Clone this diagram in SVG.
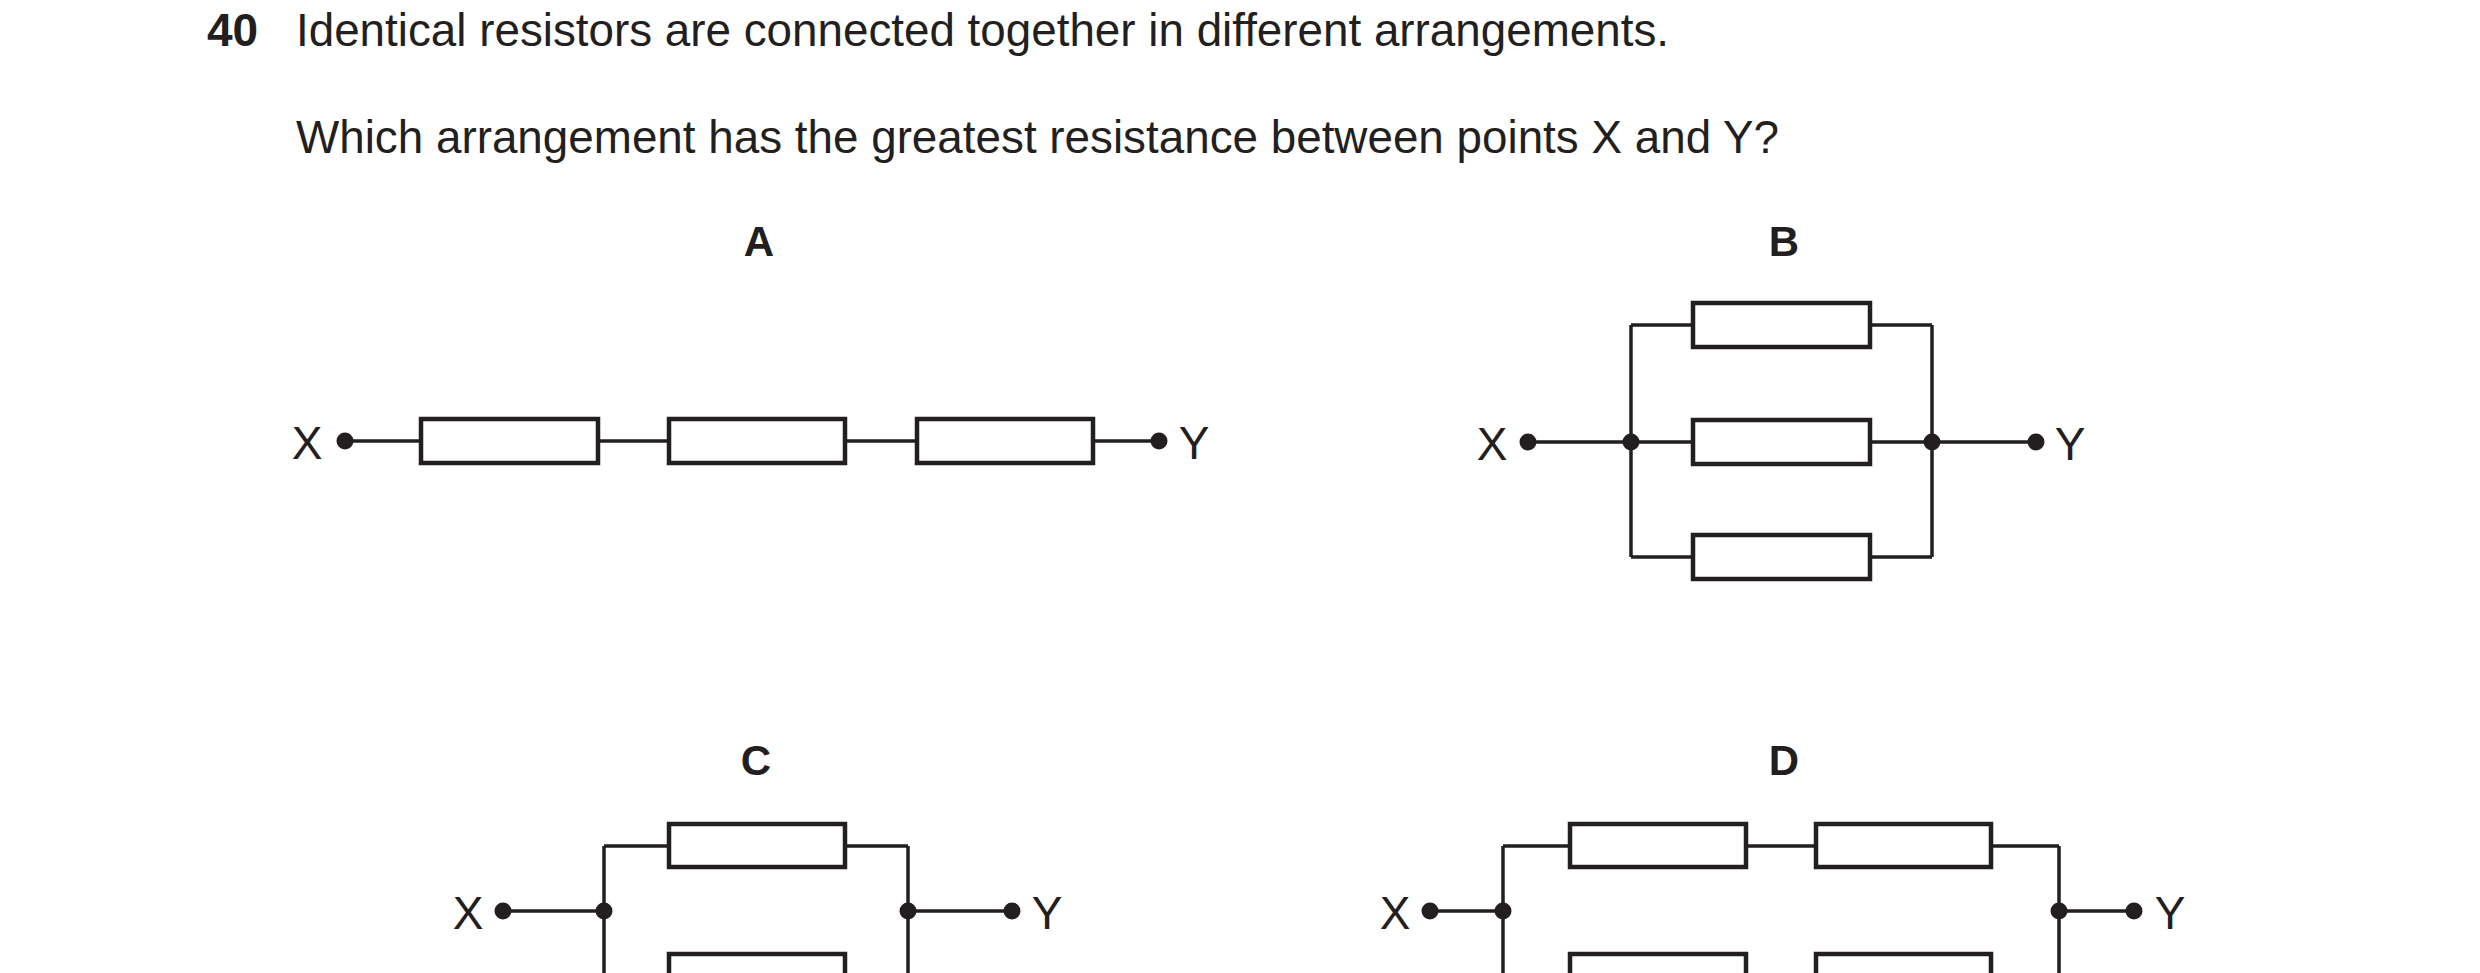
<svg xmlns="http://www.w3.org/2000/svg" width="2480" height="973" viewBox="0 0 2480 973">
<style>
text{font-family:"Liberation Sans",Arial,sans-serif;fill:#231f20}
.q{font-size:46px}
.b{font-weight:bold}
.lab{font-size:42px;font-weight:bold;text-anchor:middle}
.t{font-size:46px;text-anchor:middle}
.w{stroke:#231f20;stroke-width:3.5;fill:none}
.r{stroke:#231f20;stroke-width:4.5;fill:#fff}
.d{fill:#231f20}
</style>
<rect width="2480" height="973" fill="#fff"/>
<text class="q b" x="207" y="46">40</text>
<text class="q" x="296" y="46" textLength="1373" lengthAdjust="spacingAndGlyphs">Identical resistors are connected together in different arrangements.</text>
<text class="q" x="296" y="153" textLength="1483" lengthAdjust="spacingAndGlyphs">Which arrangement has the greatest resistance between points X and Y?</text>
<g id="connectors">
<path class="w" d="M345 441H1159"/>
<path class="w" d="M1528 442H2036M1631 325V557M1932 325V557M1631 325H1932M1631 557H1932"/>
<path class="w" d="M503 911H604M908 911H1012M604 846V973M908 846V973M604 846H908"/>
<path class="w" d="M1430 911H1503M2059 911H2134M1503 846V973M2059 846V973M1503 846H2059"/>
</g>
<g id="A">
<text class="lab" x="759" y="256">A</text>
<text class="t" x="307" y="459">X</text><text class="t" x="1194" y="459">Y</text>
<circle class="d" cx="345" cy="441" r="8.5"/><circle class="d" cx="1159" cy="441" r="8.5"/>
<rect class="r" x="421" y="419" width="177" height="44"/>
<rect class="r" x="669" y="419" width="176" height="44"/>
<rect class="r" x="917" y="419" width="176" height="44"/>
</g>
<g id="B">
<text class="lab" x="1784" y="256">B</text>
<text class="t" x="1492" y="460">X</text><text class="t" x="2070" y="460">Y</text>
<circle class="d" cx="1528" cy="442" r="8.5"/><circle class="d" cx="2036" cy="442" r="8.5"/>
<circle class="d" cx="1631" cy="442" r="8.5"/><circle class="d" cx="1932" cy="442" r="8.5"/>
<rect class="r" x="1693" y="303" width="177" height="44"/>
<rect class="r" x="1693" y="420" width="177" height="44"/>
<rect class="r" x="1693" y="535" width="177" height="44"/>
</g>
<g id="C">
<text class="lab" x="756" y="775">C</text>
<text class="t" x="468" y="929">X</text><text class="t" x="1047" y="929">Y</text>
<circle class="d" cx="503" cy="911" r="8.5"/><circle class="d" cx="1012" cy="911" r="8.5"/>
<circle class="d" cx="604" cy="911" r="8.5"/><circle class="d" cx="908" cy="911" r="8.5"/>
<rect class="r" x="669" y="824" width="176" height="43"/>
<rect class="r" x="669" y="954" width="176" height="43"/>
</g>
<g id="D">
<text class="lab" x="1784" y="775">D</text>
<text class="t" x="1395" y="929">X</text><text class="t" x="2170" y="929">Y</text>
<circle class="d" cx="1430" cy="911" r="8.5"/><circle class="d" cx="2134" cy="911" r="8.5"/>
<circle class="d" cx="1503" cy="911" r="8.5"/><circle class="d" cx="2059" cy="911" r="8.5"/>
<rect class="r" x="1570" y="824" width="176" height="43"/>
<rect class="r" x="1816" y="824" width="175" height="43"/>
<rect class="r" x="1570" y="954" width="176" height="43"/>
<rect class="r" x="1816" y="954" width="175" height="43"/>
</g>
</svg>
